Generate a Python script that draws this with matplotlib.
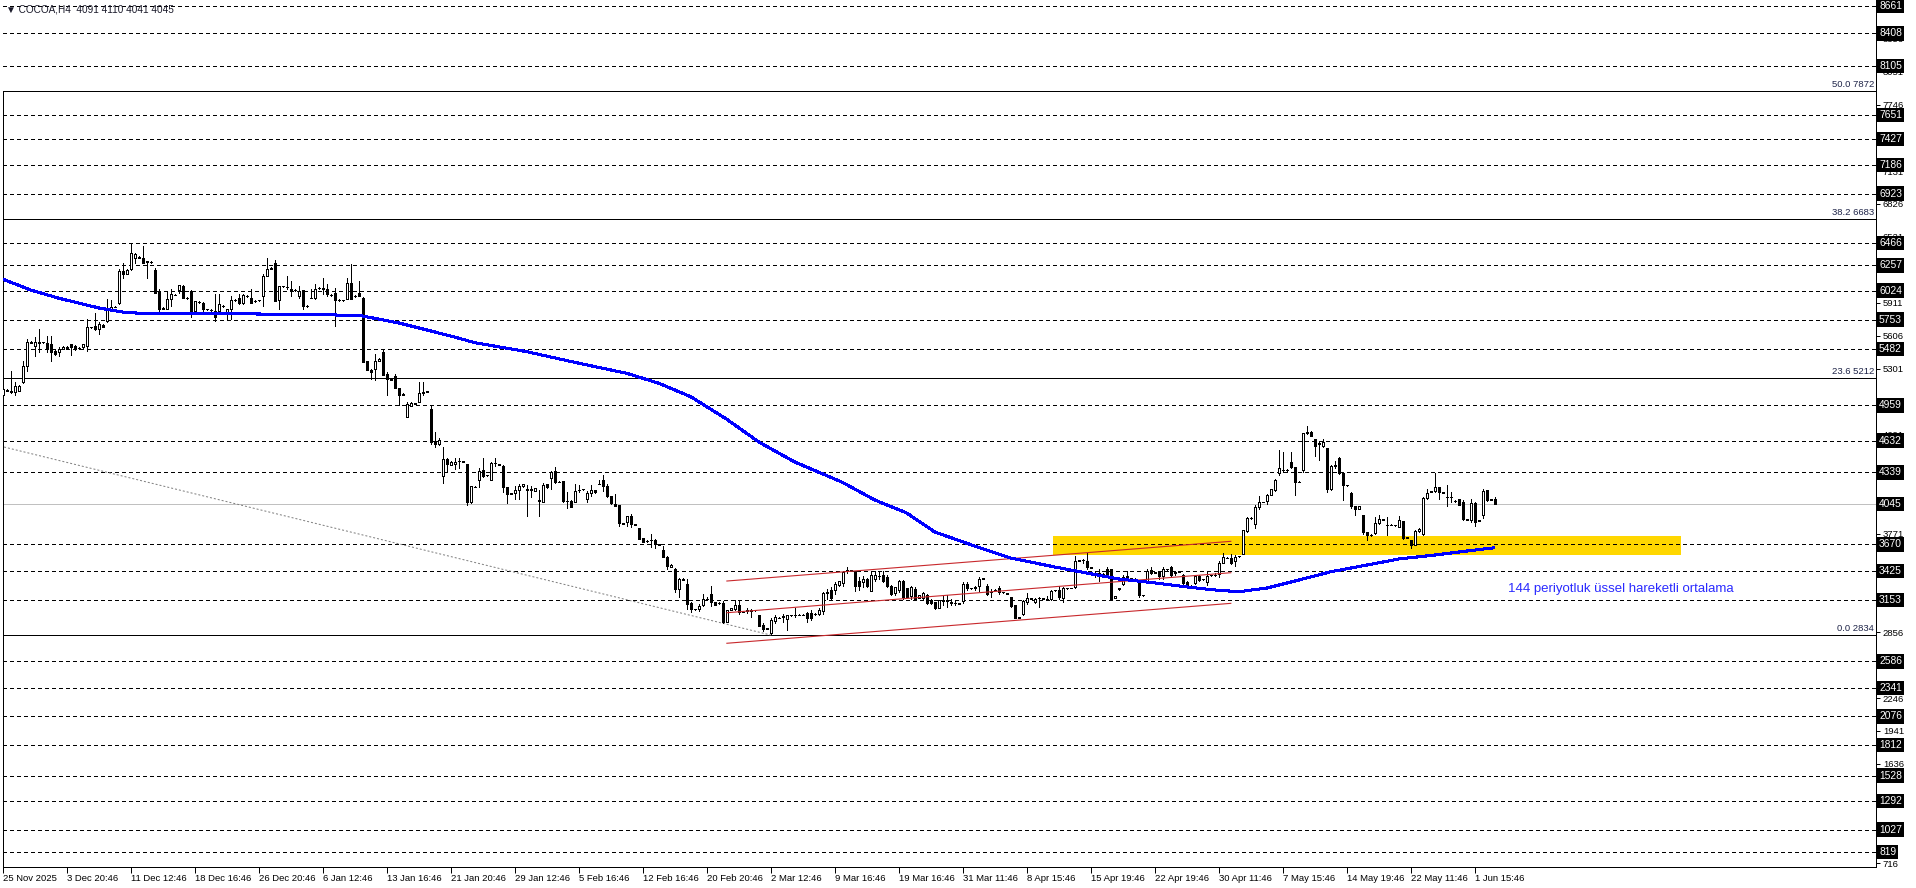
import matplotlib
matplotlib.use("Agg")
import matplotlib.pyplot as plt
import numpy as np
from matplotlib.patches import Rectangle
from matplotlib.transforms import blended_transform_factory

# H4 candles, one value per bar
opens = [
    5051, 5105, 5097, 5082, 5097, 5174, 5328, 5543, 5513, 5540,
    5545, 5537, 5528, 5466, 5451, 5482, 5497, 5528, 5513, 5490,
    5497, 5513, 5682, 5697, 5666, 5705, 5743, 5851, 5875, 5906,
    6205, 6180, 6220, 6328, 6335, 6328, 6297, 6290, 6214, 6011,
    5855, 5851, 5943, 5985, 6026, 6066, 5958, 6020, 5836, 5922,
    5912, 5851, 5845, 5836, 5836, 5885, 5820, 5851, 5937, 5958,
    5906, 5975, 5958, 5925, 5932, 5974, 6158, 6225, 6281, 5937,
    6066, 6060, 6042, 6029, 5974, 6026, 5882, 5958, 5958, 6045,
    6035, 6042, 5985, 6005, 5937, 5935, 5949, 6097, 5970, 6005,
    5958, 5368, 5290, 5297, 5374, 5457, 5251, 5205, 5236, 5119,
    5060, 4851, 4953, 4978, 4990, 5076, 5085, 4929, 4630, 4600,
    4301, 4461, 4409, 4415, 4440, 4440, 4415, 4060, 4205, 4270,
    4359, 4310, 4270, 4424, 4415, 4399, 4199, 4140, 4147, 4177,
    4208, 4180, 4178, 4168, 4080, 4067, 4230, 4285, 4350, 4250,
    4258, 4076, 4076, 4067, 4178, 4180, 4091, 4144, 4171, 4230,
    4264, 4208, 4116, 4045, 4036, 3866, 3882, 3931, 3858, 3820,
    3728, 3700, 3710, 3715, 3672, 3614, 3558, 3460, 3444, 3253,
    3352, 3306, 3130, 3072, 3068, 3105, 3167, 3210, 3136, 3126,
    3130, 2947, 3060, 3075, 3112, 3045, 3050, 3060, 3058, 3014,
    2923, 2888, 2846, 2962, 2990, 2995, 2978, 3012, 3014, 3020,
    3020, 3039, 3039, 3025, 3029, 3051, 3222, 3252, 3252, 3295,
    3313, 3420, 3430, 3420, 3334, 3319, 3350, 3234, 3350, 3382,
    3386, 3365, 3283, 3219, 3252, 3334, 3264, 3191, 3258, 3173,
    3173, 3197, 3151, 3136, 3081, 3148, 3151, 3133, 3130, 3124,
    3142, 3304, 3264, 3270, 3289, 3352, 3283, 3225, 3248, 3264,
    3228, 3216, 3182, 3106, 2990, 3029, 3136, 3170, 3136, 3170,
    3167, 3167, 3161, 3246, 3252, 3173, 3264, 3266, 3273, 3520,
    3524, 3518, 3457, 3396, 3400, 3400, 3441, 3441, 3173, 3260,
    3304, 3380, 3352, 3352, 3334, 3197, 3334, 3435, 3408, 3411,
    3380, 3441, 3463, 3405, 3416, 3386, 3319, 3286, 3313, 3374,
    3348, 3319, 3384, 3386, 3396, 3502, 3548, 3548, 3518, 3560,
    3584, 3791, 3915, 3862, 4017, 4064, 4070, 4132, 4173, 4328,
    4359, 4360, 4436, 4389, 4250, 4359, 4700, 4715, 4647, 4600,
    4585, 4560, 4188, 4399, 4467, 4328, 4219, 4151, 4027, 3996,
    3940, 3785, 3758, 3779, 3872, 3900, 3850, 3850, 3850, 3832,
    3884, 3732, 3708, 3667, 3791, 3770, 4101, 4160, 4163, 4204,
    4154, 4110, 4107, 4075, 4089, 4064, 3903, 3894, 4058, 3890,
    3940, 4173, 4085, 4091,
]
highs = [
    5128, 5110, 5276, 5174, 5150, 5374, 5574, 5555, 5589, 5666,
    5550, 5605, 5605, 5470, 5497, 5505, 5510, 5530, 5520, 5500,
    5530, 5759, 5690, 5820, 5728, 5710, 5949, 5937, 5880, 6220,
    6281, 6220, 6466, 6374, 6340, 6435, 6300, 6295, 6235, 6035,
    5870, 6020, 6035, 5990, 6075, 6072, 5965, 6025, 5930, 5928,
    5915, 5856, 5850, 5989, 5989, 5890, 5851, 5974, 5942, 5989,
    5989, 5980, 6035, 5932, 5940, 6174, 6328, 6240, 6306, 6070,
    6070, 6158, 6112, 6035, 6066, 6030, 5888, 6035, 6081, 6055,
    6143, 6081, 5990, 6051, 5942, 5940, 6143, 6266, 5978, 6112,
    5960, 5370, 5300, 5436, 5395, 5476, 5266, 5210, 5251, 5122,
    5070, 4990, 4990, 4985, 5174, 5174, 5092, 4960, 4708, 4661,
    4569, 4476, 4440, 4476, 4476, 4445, 4418, 4210, 4210, 4375,
    4476, 4318, 4430, 4467, 4418, 4409, 4200, 4148, 4214, 4230,
    4230, 4224, 4214, 4192, 4178, 4239, 4233, 4353, 4384, 4256,
    4260, 4159, 4078, 4227, 4224, 4188, 4168, 4224, 4174, 4267,
    4313, 4230, 4122, 4138, 4040, 3872, 3937, 3953, 3862, 3825,
    3730, 3710, 3768, 3722, 3676, 3654, 3560, 3488, 3450, 3355,
    3355, 3352, 3132, 3076, 3121, 3213, 3182, 3281, 3140, 3134,
    3142, 3060, 3085, 3151, 3151, 3050, 3081, 3075, 3062, 3020,
    2938, 2895, 2984, 3014, 2995, 3029, 3014, 3018, 3081, 3024,
    3025, 3040, 3060, 3033, 3084, 3228, 3258, 3273, 3319, 3334,
    3420, 3457, 3434, 3426, 3365, 3380, 3355, 3426, 3426, 3426,
    3420, 3386, 3295, 3275, 3341, 3336, 3268, 3289, 3273, 3206,
    3228, 3213, 3167, 3138, 3155, 3191, 3197, 3167, 3151, 3127,
    3319, 3319, 3268, 3289, 3365, 3360, 3304, 3258, 3256, 3283,
    3232, 3220, 3185, 3112, 2996, 3151, 3222, 3175, 3173, 3182,
    3178, 3191, 3252, 3252, 3283, 3273, 3268, 3270, 3563, 3528,
    3539, 3594, 3460, 3417, 3441, 3404, 3457, 3445, 3194, 3268,
    3386, 3426, 3360, 3356, 3341, 3200, 3441, 3457, 3414, 3426,
    3457, 3445, 3472, 3426, 3424, 3396, 3334, 3292, 3380, 3386,
    3354, 3426, 3390, 3405, 3518, 3594, 3552, 3579, 3569, 3566,
    3800, 3924, 3920, 4033, 4120, 4068, 4142, 4188, 4281, 4541,
    4529, 4365, 4523, 4392, 4256, 4700, 4771, 4720, 4650, 4622,
    4647, 4562, 4402, 4442, 4482, 4330, 4222, 4155, 4030, 4030,
    3942, 3788, 3764, 3924, 3940, 3906, 3924, 3856, 3853, 3934,
    3886, 3738, 3710, 3800, 3822, 4111, 4182, 4166, 4328, 4206,
    4158, 4219, 4157, 4078, 4095, 4080, 3906, 4095, 4060, 3898,
    4188, 4176, 4092, 4110,
]
lows = [
    4913, 5088, 5078, 5051, 5090, 5170, 5282, 5535, 5420, 5451,
    5535, 5451, 5374, 5430, 5420, 5478, 5485, 5426, 5475, 5485,
    5490, 5466, 5675, 5660, 5620, 5685, 5728, 5836, 5868, 5897,
    6143, 6175, 6215, 6281, 6325, 6275, 6143, 6280, 6000, 5836,
    5850, 5848, 5882, 5978, 6005, 5958, 5945, 5783, 5830, 5912,
    5820, 5845, 5838, 5743, 5836, 5875, 5752, 5759, 5930, 5897,
    5897, 5968, 5906, 5920, 5928, 5882, 6155, 6220, 5928, 5851,
    6060, 6035, 5974, 6020, 5958, 5851, 5875, 5952, 5943, 6040,
    5989, 5974, 5975, 5697, 5930, 5928, 5943, 5943, 5965, 5970,
    5359, 5285, 5205, 5190, 5370, 5242, 5051, 5190, 5119, 4959,
    5055, 4851, 4950, 4970, 4990, 5051, 5080, 4600, 4569, 4590,
    4236, 4338, 4405, 4369, 4378, 4430, 4036, 4055, 4198, 4205,
    4292, 4305, 4270, 4399, 4405, 4153, 4054, 4135, 4091, 4091,
    4205, 3931, 4107, 4165, 3937, 4067, 4196, 4184, 4239, 4245,
    4067, 4005, 4014, 4067, 4153, 4176, 4067, 4122, 4150, 4228,
    4168, 4107, 4045, 4023, 3845, 3860, 3839, 3829, 3850, 3720,
    3695, 3695, 3651, 3635, 3665, 3552, 3438, 3458, 3229, 3182,
    3338, 3075, 3044, 3065, 3053, 3099, 3152, 3099, 3108, 3122,
    2938, 2947, 3058, 3060, 3029, 3040, 3039, 2999, 3054, 2915,
    2868, 2885, 2837, 2938, 2985, 2953, 2877, 3008, 2999, 3016,
    3014, 2953, 2968, 3020, 3020, 3029, 3167, 3167, 3212, 3283,
    3289, 3405, 3422, 3243, 3252, 3273, 3280, 3234, 3334, 3350,
    3319, 3273, 3197, 3197, 3228, 3167, 3180, 3167, 3151, 3170,
    3151, 3121, 3121, 3075, 3078, 3112, 3090, 3106, 3106, 3118,
    3130, 3252, 3260, 3252, 3243, 3348, 3203, 3182, 3244, 3213,
    3222, 3210, 3090, 2984, 2986, 3014, 3121, 3162, 3130, 3090,
    3165, 3161, 3151, 3242, 3167, 3136, 3260, 3262, 3264, 3516,
    3502, 3441, 3452, 3365, 3334, 3392, 3365, 3167, 3170, 3250,
    3295, 3344, 3348, 3346, 3182, 3192, 3319, 3396, 3404, 3350,
    3350, 3436, 3380, 3386, 3412, 3304, 3283, 3282, 3304, 3334,
    3344, 3295, 3380, 3374, 3365, 3496, 3544, 3487, 3472, 3556,
    3584, 3785, 3910, 3822, 4002, 4060, 4049, 4128, 4170, 4318,
    4343, 4355, 4380, 4126, 4245, 4343, 4690, 4675, 4492, 4452,
    4575, 4157, 4173, 4380, 4325, 4080, 4214, 4008, 3940, 3994,
    3770, 3714, 3752, 3770, 3862, 3896, 3754, 3846, 3843, 3830,
    3723, 3728, 3636, 3665, 3785, 3754, 4095, 4156, 4157, 4095,
    4148, 4027, 4064, 4066, 4033, 3894, 3898, 3878, 3841, 3886,
    3915, 4070, 4080, 4041,
]
closes = [
    5113, 5091, 5082, 5143, 5143, 5328, 5543, 5540, 5543, 5545,
    5543, 5488, 5451, 5440, 5482, 5497, 5495, 5497, 5482, 5495,
    5528, 5682, 5685, 5666, 5712, 5690, 5851, 5875, 5872, 6205,
    6174, 6214, 6374, 6358, 6330, 6281, 6285, 6290, 6005, 5851,
    5866, 5943, 5989, 5983, 6072, 5958, 5952, 5836, 5928, 5918,
    5851, 5850, 5842, 5774, 5897, 5882, 5851, 5937, 5935, 5906,
    5980, 5972, 5912, 5928, 5937, 6158, 6220, 6235, 5928, 6066,
    6064, 6060, 6020, 6026, 6020, 5882, 5880, 5958, 6035, 6051,
    6051, 5989, 5980, 5937, 5935, 5937, 6091, 5949, 5974, 5974,
    5359, 5285, 5270, 5374, 5390, 5242, 5205, 5199, 5119, 5051,
    5065, 4974, 4984, 4974, 5076, 5082, 5088, 4621, 4600, 4640,
    4461, 4415, 4436, 4436, 4446, 4436, 4060, 4208, 4203, 4353,
    4307, 4313, 4424, 4424, 4409, 4199, 4138, 4144, 4174, 4214,
    4227, 4178, 4180, 4190, 4076, 4224, 4199, 4344, 4252, 4252,
    4076, 4076, 4020, 4168, 4178, 4184, 4147, 4171, 4153, 4233,
    4208, 4116, 4051, 4030, 3866, 3864, 3931, 3860, 3854, 3722,
    3697, 3706, 3715, 3685, 3669, 3552, 3469, 3484, 3253, 3352,
    3340, 3121, 3075, 3068, 3099, 3167, 3167, 3136, 3112, 3130,
    2947, 3060, 3081, 3112, 3045, 3045, 3060, 3054, 3060, 2917,
    2886, 2892, 2968, 2993, 2990, 3008, 3014, 3014, 3020, 3020,
    3018, 2990, 2984, 3029, 3066, 3222, 3228, 3173, 3301, 3328,
    3411, 3432, 3426, 3283, 3283, 3350, 3283, 3386, 3386, 3380,
    3334, 3283, 3213, 3273, 3334, 3182, 3182, 3273, 3167, 3203,
    3222, 3130, 3130, 3081, 3151, 3151, 3148, 3130, 3127, 3121,
    3304, 3264, 3264, 3273, 3350, 3356, 3213, 3228, 3252, 3228,
    3226, 3213, 3100, 2990, 2993, 3142, 3173, 3167, 3161, 3173,
    3176, 3167, 3243, 3249, 3182, 3264, 3266, 3264, 3518, 3524,
    3524, 3457, 3455, 3396, 3405, 3396, 3380, 3167, 3191, 3264,
    3365, 3350, 3356, 3350, 3197, 3197, 3426, 3405, 3411, 3374,
    3441, 3441, 3386, 3411, 3420, 3313, 3283, 3289, 3374, 3344,
    3350, 3380, 3386, 3386, 3502, 3557, 3548, 3502, 3557, 3563,
    3800, 3915, 3915, 4017, 4064, 4064, 4132, 4182, 4266, 4380,
    4360, 4359, 4389, 4250, 4252, 4700, 4709, 4678, 4585, 4607,
    4622, 4188, 4399, 4405, 4328, 4219, 4217, 4027, 3996, 4027,
    3785, 3754, 3760, 3872, 3903, 3903, 3847, 3853, 3847, 3894,
    3729, 3735, 3667, 3791, 3810, 4101, 4151, 4163, 4204, 4157,
    4151, 4107, 4110, 4070, 4039, 3903, 3901, 4058, 3878, 3894,
    4163, 4080, 4089, 4045,
]

# 144 EMA, read at bar positions
ema_bar = [0, 7, 14, 24, 31, 39, 66, 89, 99, 112, 118, 131, 143, 156, 164,
           172, 181, 189, 198, 210, 218, 226, 233, 243, 252, 263, 271, 279,
           288, 296, 303, 309, 316, 324, 332, 341, 349, 358, 366, 373]
ema_val = [6128, 6028, 5952, 5862, 5818, 5809, 5806, 5794, 5723, 5602, 5540,
           5457, 5358, 5256, 5164, 5039, 4830, 4619, 4434, 4244, 4082, 3961,
           3785, 3655, 3544, 3461, 3405, 3350, 3313, 3276, 3248, 3232, 3266,
           3340, 3417, 3479, 3535, 3572, 3609, 3640]

level_lines = [8661, 8408, 8105, 7651, 7427, 7186, 6923, 6466, 6257, 6024,
               5753, 5482, 4959, 4632, 4339, 3670, 3425, 3153, 2586, 2341,
               2076, 1812, 1528, 1292, 1027, 819]
fib_pct = ["50.0", "38.2", "23.6", "0.0"]
fib_price = [7872, 6683, 5212, 2834]
bid_price = 4045
price_ticks = [716, 1331, 1636, 1941, 2246, 2551, 2856, 3466,
               3771, 4076, 4386, 4691, 4996, 5301, 5606, 5911, 6216, 6521,
               6826, 7131, 7746, 8051, 8356]

time_labels = ["25 Nov 2025", "3 Dec 20:46", "11 Dec 12:46", "18 Dec 16:46",
               "26 Dec 20:46", "6 Jan 12:46", "13 Jan 16:46", "21 Jan 20:46",
               "29 Jan 12:46", "5 Feb 16:46", "12 Feb 16:46", "20 Feb 20:46",
               "2 Mar 12:46", "9 Mar 16:46", "19 Mar 16:46", "31 Mar 11:46",
               "8 Apr 15:46", "15 Apr 19:46", "22 Apr 19:46", "30 Apr 11:46",
               "7 May 15:46", "14 May 19:46", "22 May 11:46", "1 Jun 15:46"]
time_label_bars = [16 * i for i in range(len(time_labels))]

# channel (red), trendline (grey), zone (yellow)
channel_x = [181, 307]
channel_upper = [3331, 3699]
channel_mid = [3037, 3408]
channel_lower = [2754, 3124]
trend_x = [-0.7, 192]
trend_y = [4582, 2830]
zone_x = [263, 420]
zone_y = [3572, 3748]

plt.rcParams['font.family'] = ['Liberation Sans', 'DejaVu Sans']
fs = 6.8

W, H = 1916, 888
fig = plt.figure(figsize=(W / 100, H / 100), dpi=100)
fig.patch.set_facecolor('white')
ax = fig.add_axes([3 / W, 21 / H, 1873 / W, 867 / H])
ax.set_xlim(0.083, 468.33)
ax.set_ylim(680, 8717)

o = np.array(opens, float)
h = np.array(highs, float)
l = np.array(lows, float)
c = np.array(closes, float)
n = min(len(o), len(h), len(l), len(c))
o, h, l, c = o[:n], h[:n], l[:n], c[:n]
h = np.maximum(h, np.maximum(o, c))
l = np.minimum(l, np.minimum(o, c))
x = np.arange(n)

lw1 = 0.72  # one pixel

# zone and horizontal objects
ax.add_patch(Rectangle((zone_x[0] - 0.5, zone_y[0]), zone_x[1] - zone_x[0],
                       zone_y[1] - zone_y[0], facecolor='#ffd700',
                       edgecolor='none', zorder=1))
for p in level_lines:
    ax.axhline(p, color='black', lw=lw1, ls=(0, (3, 3)), zorder=1.5,
               antialiased=False)
for p in fib_price:
    ax.axhline(p, color='black', lw=lw1, zorder=1.5, antialiased=False)
ax.axhline(bid_price, color='#c0c0c0', lw=lw1, zorder=1.2, antialiased=False)

trans = blended_transform_factory(ax.transAxes, ax.transData)
for pct, p in zip(fib_pct, fib_price):
    ax.annotate(f"{pct} {p}", xy=(1 - 2 / 1873, p), xycoords=trans,
                xytext=(0, 1.5), textcoords='offset points', ha='right',
                va='bottom', fontsize=fs, color='#1e2448')

# grey trendline
ax.plot(trend_x, trend_y, color='#808080', lw=lw1, ls=(0, (2, 2)), zorder=2)

# candles
ax.vlines(x, l, h, color='black', lw=lw1, zorder=3, antialiased=False)
up = c >= o
bot = np.minimum(o, c)
bh = np.maximum(np.abs(c - o), 0.5)
ax.bar(x[up], bh[up], bottom=bot[up], width=0.55, facecolor='white',
       edgecolor='black', lw=lw1, zorder=4, antialiased=False)
ax.bar(x[~up], bh[~up], bottom=bot[~up], width=0.55, facecolor='black',
       edgecolor='black', lw=lw1, zorder=4, antialiased=False)

# channel lines
for ys in (channel_upper, channel_mid, channel_lower):
    ax.plot(channel_x, ys, color='#c8282c', lw=0.8, zorder=5)

# EMA
ax.plot(ema_bar, ema_val, color='#0000ff', lw=1.45, zorder=6,
        solid_capstyle='butt', antialiased=False)

ax.text(376.3, 3255, "144 periyotluk üssel hareketli ortalama",
        color='#2a2aff', fontsize=9.5, ha='left', va='center', zorder=7)

# axes styling
ax.spines['top'].set_visible(False)
for s in ('left', 'right', 'bottom'):
    ax.spines[s].set_linewidth(lw1)
ax.spines['left'].set_bounds(680, 7872)

ax.yaxis.tick_right()
ax.set_yticks(price_ticks)
ax.set_yticklabels([str(v) for v in price_ticks])
ax.tick_params(axis='y', length=3, width=lw1, pad=2, labelsize=fs,
               direction='out')
ax.set_xticks(time_label_bars)
ax.set_xticklabels(time_labels, ha='left')
ax.tick_params(axis='x', length=4, width=lw1, pad=1, labelsize=fs,
               direction='out')

for p in level_lines + [bid_price]:
    ax.text(1 + 3 / 1873, p, str(p), transform=trans, ha='left',
            va='center', color='white', fontsize=7.4, clip_on=False,
            zorder=10, bbox=dict(boxstyle='square,pad=0.22', fc='black',
                                 ec='none'))

fig.text(6 / W, 1 - 10 / H, "▼ COCOA,H4  4091 4110 4041 4045", fontsize=7.2,
         color='#1a1a2a', ha='left', va='center')

fig.savefig('out.png', dpi=100, facecolor='white')
